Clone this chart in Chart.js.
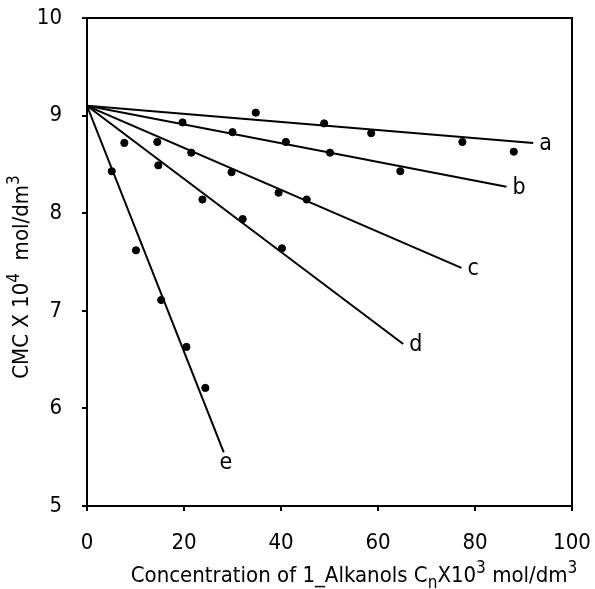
<!DOCTYPE html>
<html>
<head>
<meta charset="utf-8">
<script src="https://cdn.jsdelivr.net/npm/chart.js@4.4.1/dist/chart.umd.min.js"></script>
<style>
  html, body { margin: 0; padding: 0; background: #fff; }
  #wrap { width: 595px; height: 589px; }
</style>
</head>
<body>
<div id="wrap"><canvas id="chart" width="595" height="589"></canvas></div>
<script>
// 測定点（目視で読んだ値）
const seriesNames = ["a", "b", "c", "d", "e"];
const xA = [34.8, 48.9, 58.6, 77.4, 88.0];
const yA = [9.03, 8.92, 8.82, 8.73, 8.63];
const xB = [19.7, 30.0, 41.0, 50.1, 64.6];
const yB = [8.93, 8.83, 8.73, 8.62, 8.43];
const xC = [14.5, 21.5, 29.8, 39.5, 45.3];
const yC = [8.73, 8.62, 8.42, 8.21, 8.14];
const xD = [7.7, 14.7, 23.8, 32.1, 40.2];
const yD = [8.72, 8.49, 8.14, 7.94, 7.64];
const xE = [5.1, 10.1, 15.3, 20.5, 24.4];
const yE = [8.43, 7.62, 7.11, 6.63, 6.21];

// 回帰直線：全部 (0, 9.1) から出る
const lineStartX = 0, lineStartY = 9.1;
const lineEndX = [92.0, 86.5, 77.2, 65.2, 28.2];
const lineEndY = [8.72, 8.27, 7.44, 6.66, 5.55];

const xTicks = [0, 20, 40, 60, 80, 100];
const yTicks = [5, 6, 7, 8, 9, 10];

const FONT = "'DejaVu Sans Condensed', 'DejaVu Sans', sans-serif";

const pts = [[xA, yA], [xB, yB], [xC, yC], [xD, yD], [xE, yE]];

const datasets = [];
lineEndX.forEach((ex, i) => {
  datasets.push({
    type: "line",
    data: [{ x: lineStartX, y: lineStartY }, { x: ex, y: lineEndY[i] }],
    borderColor: "#000", borderWidth: 2, pointRadius: 0, fill: false
  });
});
pts.forEach(([xs, ys]) => {
  datasets.push({
    type: "scatter",
    data: xs.map((x, k) => ({ x, y: ys[k] })),
    backgroundColor: "#000", borderColor: "#000", pointRadius: 3.6
  });
});

// 上付き・下付き付きの文字を中央揃えで描く
// parts: [text, kind]  kind: 0=通常, 1=上付き, -1=下付き
function drawRich(ctx, parts, size, cx, cy) {
  const f = k => (k ? Math.round(size * 0.78) : size) + "px " + FONT;
  let w = 0;
  parts.forEach(([t, k]) => { ctx.font = f(k); w += ctx.measureText(t).width; });
  let x = cx - w / 2;
  ctx.textAlign = "left";
  ctx.textBaseline = "alphabetic";
  parts.forEach(([t, k]) => {
    ctx.font = f(k);
    const dy = k === 1 ? -size * 0.42 : k === -1 ? size * 0.25 : 0;
    ctx.fillText(t, x, cy + dy);
    x += ctx.measureText(t).width;
  });
}

// 枠と文字
const framePlugin = {
  id: "frame",
  afterDraw(c) {
    const { ctx, chartArea: a, scales } = c;
    ctx.save();
    ctx.strokeStyle = "#000";
    ctx.lineWidth = 2;
    ctx.strokeRect(a.left, a.top, a.right - a.left, a.bottom - a.top);

    // 直線ラベル
    ctx.fillStyle = "#000";
    ctx.font = "23px " + FONT;
    ctx.textBaseline = "middle";
    lineEndX.forEach((ex, i) => {
      const px = scales.x.getPixelForValue(ex);
      const py = scales.y.getPixelForValue(lineEndY[i]);
      if (i === 4) { ctx.textAlign = "center"; ctx.fillText(seriesNames[i], px + 2, py + 11); }
      else { ctx.textAlign = "left"; ctx.fillText(seriesNames[i], px + 6, py + 1); }
    });

    // 軸タイトル
    drawRich(ctx, [["Concentration of 1_Alkanols C", 0], ["n", -1], ["X10", 0], ["3", 1], [" mol/dm", 0], ["3", 1]], 22, 354, 582);
    ctx.translate(28, 277);
    ctx.rotate(-Math.PI / 2);
    drawRich(ctx, [["CMC X 10", 0], ["4", 1], ["  mol/dm", 0], ["3", 1]], 22, 0, 0);
    ctx.restore();
  }
};

new Chart(document.getElementById("chart"), {
  data: { datasets },
  options: {
    responsive: false,
    animation: false,
    layout: { padding: { top: 18, right: 23, left: 0, bottom: 0 } },
    plugins: { legend: { display: false }, tooltip: { enabled: false } },
    scales: {
      x: {
        type: "linear", min: 0, max: 100,
        afterBuildTicks: s => { s.ticks = xTicks.map(v => ({ value: v })); },
        afterFit: s => { s.height = 83; s.paddingLeft = 0; s.paddingRight = 0; },
        grid: { drawOnChartArea: false, tickLength: 5, color: "#000", lineWidth: 2 },
        border: { color: "#000", width: 2 },
        ticks: { color: "#000", padding: 19, font: { family: FONT, size: 22 } }
      },
      y: {
        type: "linear", min: 5, max: 10,
        afterBuildTicks: s => { s.ticks = yTicks.map(v => ({ value: v })); },
        afterFit: s => { s.width = 87; s.paddingTop = 0; s.paddingBottom = 0; },
        grid: { drawOnChartArea: false, tickLength: 5, color: "#000", lineWidth: 2 },
        border: { color: "#000", width: 2 },
        ticks: { color: "#000", padding: 20, font: { family: FONT, size: 22 } }
      }
    }
  },
  plugins: [framePlugin]
});
</script>
</body>
</html>
